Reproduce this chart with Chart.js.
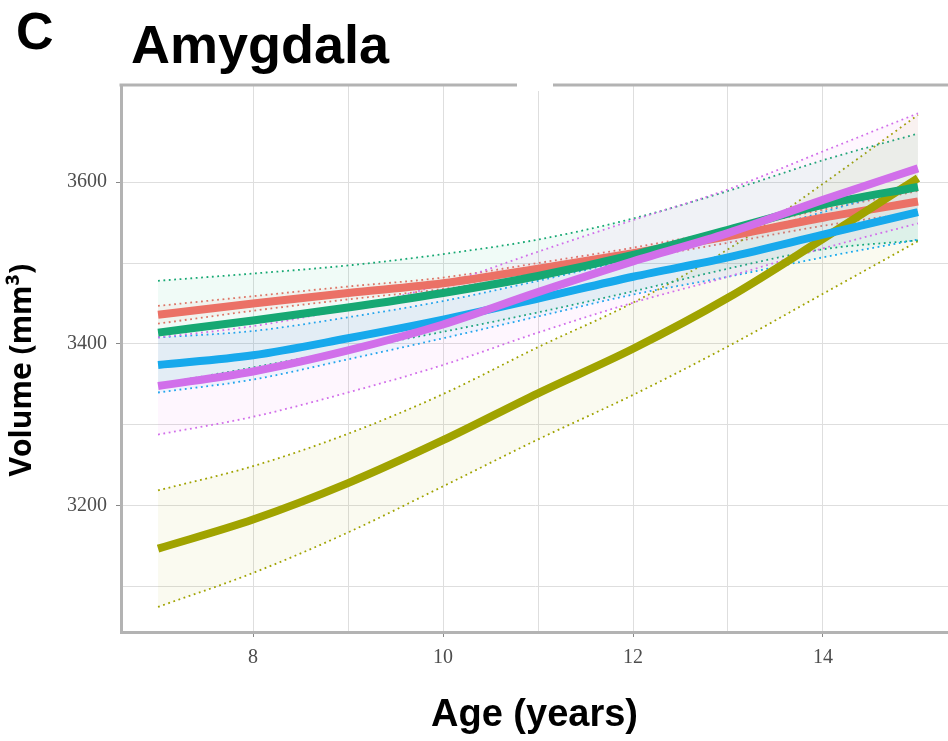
<!DOCTYPE html>
<html>
<head>
<meta charset="utf-8">
<script src="https://cdn.jsdelivr.net/npm/chart.js@4.4.1/dist/chart.umd.min.js"></script>
<style>
  body { margin: 0; background: #fff; }
  #marco { position: relative; width: 948px; height: 741px; }
  #letra { position: absolute; left: 16px; top: 5px; font: bold 52px "Liberation Sans", Arial, sans-serif; line-height: 1; color: #000; }
  #titulo { position: absolute; left: 131px; top: 17px; font: bold 54px "Liberation Sans", Arial, sans-serif; line-height: 1; color: #000; }
  #grafico { position: absolute; left: 0; top: 0; }
</style>
</head>
<body>
<div id="marco">
  <canvas id="grafico" width="948" height="741"></canvas>
  <div id="letra">C</div>
  <div id="titulo">Amygdala</div>
</div>
<script>
// edades (eje x)
const edades = [7, 8, 9, 10, 11, 12, 13, 14, 15];

// curvas ajustadas (mm3)
const rojo    = [3436, 3450, 3463, 3475, 3493, 3512, 3533, 3556, 3576];
const oliva   = [3147, 3183, 3228, 3281, 3339, 3394, 3457, 3530, 3605];
const verde   = [3414, 3429, 3445, 3463, 3484, 3510, 3541, 3572, 3594];
const azul    = [3374, 3386, 3407, 3430, 3456, 3483, 3507, 3535, 3563];
const morado  = [3348, 3366, 3392, 3424, 3464, 3502, 3537, 3578, 3617];

// bandas de confianza (limite superior / inferior)
const rojoSup   = [3447, 3459, 3471, 3482, 3500, 3519, 3541, 3566, 3589];
const rojoInf   = [3425, 3441, 3455, 3468, 3486, 3505, 3525, 3546, 3563];
const olivaSup  = [3219, 3249, 3289, 3338, 3396, 3451, 3517, 3598, 3683];
const olivaInf  = [3075, 3117, 3167, 3224, 3282, 3337, 3397, 3462, 3527];
const verdeSup  = [3478, 3487, 3497, 3511, 3529, 3555, 3589, 3627, 3660];
const verdeInf  = [3350, 3371, 3393, 3415, 3439, 3465, 3493, 3517, 3528];
const azulSup   = [3408, 3416, 3433, 3453, 3478, 3505, 3531, 3563, 3597];
const azulInf   = [3340, 3356, 3381, 3407, 3434, 3461, 3483, 3507, 3529];
const moradoSup = [3408, 3422, 3444, 3474, 3514, 3553, 3591, 3638, 3685];
const moradoInf = [3288, 3310, 3340, 3374, 3414, 3451, 3483, 3518, 3549];

const grupos = [
  { y: rojo,   sup: rojoSup,   inf: rojoInf,   color: '#EB7166', relleno: 'rgba(248,118,109,0.06)', orden: 4 },
  { y: oliva,  sup: olivaSup,  inf: olivaInf,  color: '#A0A300', relleno: 'rgba(163,165,0,0.06)',   orden: 3 },
  { y: verde,  sup: verdeSup,  inf: verdeInf,  color: '#16A873', relleno: 'rgba(0,191,125,0.06)',   orden: 2 },
  { y: azul,   sup: azulSup,   inf: azulInf,   color: '#17A9EC', relleno: 'rgba(0,176,246,0.06)',   orden: 1 },
  { y: morado, sup: moradoSup, inf: moradoInf, color: '#D16FEA', relleno: 'rgba(231,107,243,0.06)', orden: 0 }
];

const puntos = arr => arr.map((v, i) => ({ x: edades[i], y: v }));

const datasets = [];
grupos.forEach(g => {
  // banda: superior rellena hasta la inferior
  datasets.push({
    data: puntos(g.sup), borderColor: g.color, borderWidth: 1.8, borderDash: [1.8, 3.6],
    backgroundColor: g.relleno, fill: '+1', pointRadius: 0,
    cubicInterpolationMode: 'monotone', order: 20 + g.orden
  });
  datasets.push({
    data: puntos(g.inf), borderColor: g.color, borderWidth: 1.8, borderDash: [1.8, 3.6],
    fill: false, pointRadius: 0,
    cubicInterpolationMode: 'monotone', order: 20 + g.orden
  });
});
grupos.forEach(g => {
  datasets.push({
    data: puntos(g.y), borderColor: g.color, borderWidth: 8, fill: false,
    pointRadius: 0, cubicInterpolationMode: 'monotone', order: g.orden
  });
});

// borde superior con el hueco del original
const bordeSuperior = {
  id: 'bordeSuperior',
  afterDraw(chart) {
    const { ctx, chartArea: a } = chart;
    ctx.save();
    ctx.strokeStyle = '#b3b3b3';
    ctx.lineWidth = 3;
    ctx.beginPath();
    ctx.moveTo(a.left - 1.5, a.top);
    ctx.lineTo(a.right, a.top);
    ctx.stroke();
    ctx.fillStyle = '#fff';
    ctx.fillRect(517, a.top - 3, 36, 9);
    ctx.restore();
  }
};

const ctx = document.getElementById('grafico').getContext('2d');
new Chart(ctx, {
  type: 'line',
  data: { datasets },
  plugins: [bordeSuperior],
  options: {
    responsive: false,
    animation: false,
    layout: { padding: { top: 85, right: 0, left: 0, bottom: 0 } },
    plugins: { legend: { display: false }, tooltip: { enabled: false } },
    scales: {
      x: {
        type: 'linear', min: 6.61, max: 15.316,
        afterBuildTicks: s => { s.ticks = s.ticks.filter(t => Number.isInteger(t.value)); },
        afterFit: s => { s.height = 109; },
        grid: {
          color: '#dedede', lineWidth: 1, tickLength: 5,
          tickColor: c => (c.tick && c.tick.value % 2 === 0) ? '#888' : 'rgba(0,0,0,0)'
        },
        border: { color: '#b3b3b3', width: 3 },
        ticks: {
          stepSize: 1, autoSkip: false, maxRotation: 0, padding: 9,
          color: '#4d4d4d', font: { family: '"Liberation Serif", serif', size: 20 },
          callback: v => (v % 2 === 0 ? v : '')
        },
        title: {
          display: true, text: 'Age (years)', color: '#000',
          font: { family: '"Liberation Sans", Arial, sans-serif', size: 38, weight: 'bold' },
          padding: { top: 0, bottom: 3 }
        }
      },
      y: {
        type: 'linear', min: 3044, max: 3720,
        afterBuildTicks: s => { s.ticks = s.ticks.filter(t => t.value % 100 === 0); },
        afterFit: s => { s.width = 121; },
        grid: {
          color: '#dedede', lineWidth: 1, tickLength: 5,
          tickColor: c => (c.tick && c.tick.value % 200 === 0) ? '#888' : 'rgba(0,0,0,0)'
        },
        border: { color: '#b3b3b3', width: 3 },
        ticks: {
          stepSize: 100, autoSkip: false, padding: 9,
          color: '#4d4d4d', font: { family: '"Liberation Serif", serif', size: 20 },
          callback: v => (v % 200 === 0 ? v : '')
        },
        title: {
          display: true, text: 'Volume (mm³)   ', color: '#000',
          font: { family: '"Open Sans", sans-serif', size: 30, weight: 'bold' },
          padding: { top: 4, bottom: 0 }
        }
      }
    }
  }
});
</script>
</body>
</html>
